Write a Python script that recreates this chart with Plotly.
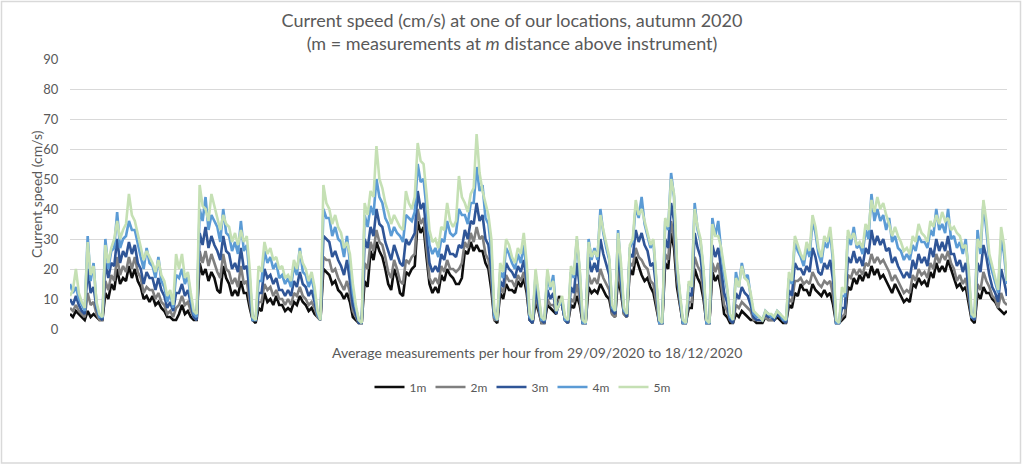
import pandas as pd
import plotly.graph_objects as go

# ---- data: hourly-average current speed (cm/s) ----
# "main" values at 00:00 / 12:00, "mid" values at 06:00 / 18:00
start_date = "2020-09-29"

speed_5m_main = [11, 20, 9, 29, 21, 5, 28, 27, 36, 33, 45, 36, 27, 26, 22, 23, 16, 13, 25, 25,
                 19, 6, 48, 40, 45, 37, 38, 34, 32, 33, 31, 4, 21, 29, 27, 24, 21, 18, 23, 26,
                 20, 19, 6, 48, 40, 38, 32, 29, 15, 3, 42, 46, 61, 47, 39, 38, 34, 46, 40, 62,
                 55, 33, 30, 34, 42, 34, 51, 42, 45, 65, 46, 38, 6, 22, 30, 24, 27, 32, 5, 20,
                 4, 20, 16, 8, 4, 21, 31, 3, 29, 26, 38, 28, 8, 32, 7, 28, 43, 40, 32, 30,
                 3, 37, 50, 22, 3, 16, 40, 30, 3, 35, 31, 20, 5, 17, 21, 16, 6, 4, 6, 5,
                 6, 4, 19, 31, 25, 29, 38, 27, 31, 34, 3, 14, 33, 32, 29, 35, 43, 44, 42, 35,
                 34, 29, 27, 31, 35, 31, 36, 38, 39, 37, 34, 31, 28, 5, 30, 43, 25, 17, 34, 16]
speed_5m_mid = [13, 12, 7, 18, 9, 4, 22, 30, 30, 35, 38, 32, 23, 24, 19, 18, 11, 8, 20, 17,
                12, 5, 41, 36, 41, 33, 35, 29, 28, 29, 20, 3, 19, 25, 23, 20, 17, 16, 20, 22,
                16, 14, 3, 42, 35, 34, 27, 25, 8, 2, 38, 44, 50, 42, 35, 36, 33, 42, 44, 56,
                45, 29, 27, 33, 36, 36, 44, 39, 47, 52, 42, 30, 3, 19, 28, 22, 25, 22, 3, 12,
                3, 14, 6, 11, 3, 18, 20, 2, 24, 24, 33, 24, 6, 22, 5, 30, 38, 36, 28, 18,
                2, 34, 45, 12, 2, 14, 34, 20, 2, 31, 27, 14, 3, 14, 17, 12, 5, 3, 5, 4,
                5, 3, 16, 28, 23, 26, 34, 24, 29, 24, 2, 12, 30, 28, 27, 33, 39, 40, 38, 31,
                31, 26, 25, 29, 32, 29, 34, 35, 36, 33, 32, 27, 20, 4, 27, 36, 21, 13, 28]

speed_4m_main = [15, 14, 8, 31, 22, 4, 30, 26, 39, 30, 36, 33, 24, 27, 21, 24, 14, 12, 18, 20,
                 18, 5, 40, 44, 38, 34, 40, 31, 29, 36, 28, 3, 16, 26, 24, 22, 18, 17, 21, 27,
                 18, 17, 5, 40, 37, 34, 29, 31, 12, 3, 38, 41, 50, 42, 35, 34, 31, 38, 36, 55,
                 50, 28, 27, 30, 36, 31, 40, 38, 42, 54, 48, 35, 4, 19, 27, 22, 25, 28, 4, 18,
                 3, 18, 18, 8, 3, 19, 30, 2, 30, 27, 40, 27, 7, 33, 6, 27, 41, 44, 31, 29,
                 2, 36, 52, 21, 2, 15, 42, 29, 2, 37, 36, 18, 4, 19, 22, 18, 5, 4, 6, 4,
                 6, 3, 17, 29, 24, 27, 36, 25, 29, 32, 2, 11, 31, 34, 28, 33, 45, 40, 38, 37,
                 31, 26, 25, 28, 31, 29, 33, 40, 35, 40, 31, 29, 30, 4, 33, 42, 23, 15, 30, 15]
speed_4m_mid = [12, 10, 6, 16, 8, 4, 20, 27, 27, 31, 33, 28, 20, 22, 17, 16, 9, 7, 17, 15,
                10, 4, 36, 33, 36, 29, 32, 26, 25, 26, 17, 3, 16, 22, 20, 17, 15, 14, 18, 19,
                14, 12, 3, 37, 31, 30, 24, 22, 7, 2, 34, 38, 44, 37, 31, 32, 29, 37, 39, 49,
                40, 25, 24, 29, 32, 32, 38, 35, 42, 46, 37, 26, 3, 17, 25, 20, 22, 19, 3, 11,
                3, 13, 6, 10, 3, 17, 19, 2, 23, 23, 32, 23, 6, 21, 5, 29, 37, 35, 27, 17,
                2, 33, 44, 11, 2, 14, 33, 19, 2, 31, 26, 13, 3, 14, 17, 11, 4, 3, 5, 4,
                5, 3, 15, 26, 21, 24, 32, 22, 27, 22, 2, 11, 28, 27, 25, 30, 36, 36, 33, 29,
                27, 23, 23, 26, 29, 27, 31, 33, 32, 30, 27, 25, 18, 4, 25, 33, 19, 12, 25]

speed_3m_main = [10, 11, 6, 20, 14, 4, 22, 22, 30, 26, 29, 28, 20, 19, 17, 17, 11, 9, 12, 15,
                 13, 4, 32, 34, 31, 26, 31, 25, 22, 27, 21, 3, 12, 20, 18, 17, 13, 13, 16, 19,
                 14, 13, 5, 31, 29, 26, 21, 23, 8, 2, 30, 34, 40, 34, 26, 28, 22, 30, 30, 46,
                 42, 22, 21, 25, 28, 25, 28, 33, 36, 42, 38, 28, 4, 16, 22, 19, 21, 23, 3, 14,
                 3, 13, 12, 9, 3, 14, 22, 2, 24, 22, 30, 21, 6, 26, 6, 25, 33, 32, 26, 22,
                 2, 30, 42, 19, 2, 12, 32, 24, 2, 28, 27, 12, 3, 12, 14, 11, 4, 3, 5, 4,
                 5, 3, 13, 22, 20, 21, 27, 19, 22, 23, 2, 7, 24, 26, 24, 27, 33, 31, 30, 27,
                 24, 19, 19, 23, 25, 24, 27, 30, 29, 31, 25, 23, 22, 4, 22, 28, 18, 12, 20, 11]
speed_3m_mid = [8, 8, 5, 12, 7, 3, 17, 21, 22, 24, 25, 22, 15, 17, 13, 13, 7, 6, 12, 11,
                8, 3, 28, 27, 28, 23, 26, 20, 19, 20, 12, 3, 12, 17, 15, 13, 11, 11, 14, 15,
                11, 9, 3, 30, 24, 23, 18, 16, 5, 2, 27, 31, 35, 29, 23, 25, 21, 28, 32, 40,
                32, 19, 19, 23, 25, 24, 27, 30, 35, 36, 30, 20, 3, 14, 20, 17, 19, 16, 2, 8,
                2, 10, 5, 8, 2, 12, 14, 2, 19, 19, 25, 18, 5, 17, 4, 24, 29, 28, 21, 13,
                2, 27, 36, 10, 2, 11, 27, 15, 2, 24, 20, 9, 2, 10, 12, 8, 3, 3, 4, 3,
                4, 2, 11, 20, 18, 19, 24, 18, 20, 16, 2, 7, 22, 22, 21, 25, 28, 28, 26, 22,
                21, 17, 17, 20, 22, 21, 24, 26, 26, 25, 21, 19, 14, 3, 19, 24, 14, 9, 16]

speed_2m_main = [7, 8, 5, 12, 9, 3, 16, 18, 24, 21, 24, 24, 17, 14, 13, 12, 8, 6, 7, 11,
                 9, 4, 26, 26, 25, 19, 25, 19, 17, 21, 16, 3, 9, 15, 14, 13, 10, 10, 12, 14,
                 10, 9, 4, 24, 23, 20, 15, 16, 6, 2, 22, 29, 33, 28, 19, 23, 16, 23, 24, 40,
                 37, 17, 17, 21, 23, 20, 20, 29, 32, 34, 31, 23, 3, 14, 18, 16, 18, 19, 3, 11,
                 2, 10, 8, 10, 3, 10, 15, 2, 18, 17, 20, 15, 5, 20, 5, 22, 27, 23, 20, 15,
                 2, 25, 36, 17, 2, 9, 24, 19, 2, 22, 22, 8, 3, 8, 9, 7, 3, 3, 4, 3,
                 5, 3, 10, 16, 17, 16, 19, 15, 16, 16, 2, 4, 18, 20, 20, 22, 25, 24, 23, 19,
                 18, 14, 13, 18, 20, 19, 22, 25, 25, 26, 20, 18, 17, 4, 15, 19, 14, 10, 12, 8]
speed_2m_mid = [6, 6, 4, 8, 5, 3, 13, 16, 18, 19, 20, 19, 12, 13, 10, 9, 5, 4, 8, 8,
                6, 3, 22, 21, 22, 17, 20, 15, 14, 15, 9, 3, 9, 13, 11, 10, 8, 8, 11, 11,
                8, 7, 3, 23, 19, 17, 13, 12, 4, 2, 20, 26, 29, 24, 17, 20, 15, 22, 25, 35,
                27, 15, 15, 19, 20, 19, 22, 27, 29, 30, 25, 16, 3, 12, 16, 14, 16, 14, 2, 7,
                2, 8, 6, 8, 2, 9, 10, 2, 15, 15, 17, 13, 4, 14, 4, 21, 24, 21, 16, 9,
                2, 23, 30, 9, 2, 9, 21, 12, 2, 19, 15, 6, 2, 7, 8, 6, 3, 3, 3, 3,
                4, 2, 9, 16, 15, 15, 17, 14, 15, 11, 2, 5, 17, 18, 18, 21, 22, 22, 21, 16,
                16, 12, 12, 16, 18, 17, 20, 22, 23, 22, 16, 15, 11, 3, 13, 16, 11, 7, 9]

speed_1m_main = [5, 6, 4, 6, 5, 3, 12, 15, 20, 17, 21, 20, 14, 11, 11, 9, 6, 4, 3, 8,
                 6, 3, 22, 20, 19, 13, 21, 15, 13, 16, 12, 3, 7, 12, 10, 11, 8, 7, 9, 11,
                 8, 7, 4, 20, 18, 16, 12, 12, 4, 2, 16, 26, 29, 24, 15, 20, 12, 19, 20, 36,
                 34, 15, 14, 18, 20, 17, 15, 26, 29, 28, 26, 20, 3, 12, 15, 13, 16, 17, 3, 9,
                 2, 8, 6, 11, 3, 8, 11, 2, 14, 13, 15, 11, 5, 17, 5, 20, 24, 18, 17, 12,
                 2, 22, 32, 14, 2, 7, 20, 15, 2, 19, 18, 5, 2, 5, 6, 4, 3, 2, 4, 3,
                 4, 2, 8, 12, 15, 13, 15, 12, 13, 12, 2, 3, 14, 17, 18, 19, 21, 20, 18, 14,
                 15, 11, 10, 15, 17, 16, 19, 22, 21, 23, 17, 15, 14, 3, 12, 14, 12, 9, 6, 6]
speed_1m_mid = [4, 5, 3, 4, 4, 3, 10, 13, 15, 16, 17, 16, 10, 9, 8, 7, 4, 3, 5, 5,
                4, 3, 18, 16, 17, 12, 17, 11, 11, 12, 7, 2, 6, 9, 8, 8, 6, 6, 8, 9,
                6, 5, 3, 19, 15, 13, 10, 9, 3, 2, 14, 23, 26, 20, 13, 17, 11, 18, 21, 32,
                24, 12, 12, 16, 18, 15, 17, 25, 26, 26, 22, 13, 2, 10, 13, 12, 14, 12, 2, 6,
                2, 7, 5, 8, 2, 7, 8, 2, 12, 12, 13, 10, 4, 12, 4, 18, 21, 16, 14, 7,
                2, 20, 27, 8, 2, 7, 17, 10, 2, 16, 13, 4, 2, 4, 5, 3, 2, 2, 3, 3,
                3, 2, 7, 11, 13, 11, 13, 11, 11, 8, 2, 4, 13, 15, 16, 17, 18, 17, 16, 12,
                13, 9, 9, 14, 15, 14, 17, 19, 19, 20, 14, 13, 9, 2, 10, 12, 10, 7, 5]

series_names = ["1m", "2m", "3m", "4m", "5m"]
series_main = [speed_1m_main, speed_2m_main, speed_3m_main, speed_4m_main, speed_5m_main]
series_mid = [speed_1m_mid, speed_2m_mid, speed_3m_mid, speed_4m_mid, speed_5m_mid]
series_colors = ["#0d0d0d", "#7f7f7f", "#2f5597", "#5b9bd5", "#c5e0b4"]
y_ticks = [0, 10, 20, 30, 40, 50, 60, 70, 80, 90]

t_main = pd.date_range(start_date, periods=len(speed_5m_main), freq="12h")
t_mid = pd.date_range(pd.Timestamp(start_date) + pd.Timedelta(hours=6),
                      periods=len(speed_5m_mid), freq="12h")


def interleave(a, b):
    out = []
    for i, v in enumerate(a):
        out.append(v)
        if i < len(b):
            out.append(b[i])
    return out


times = interleave(list(t_main), list(t_mid))

FONT = "Lato"
GREY = "#595959"

fig = go.Figure()
for name, main, mid, col in zip(series_names, series_main, series_mid, series_colors):
    fig.add_trace(go.Scatter(x=times, y=interleave(main, mid), name=name, mode="lines",
                             line=dict(color=col, width=2.6)))

W, H = 1024, 465
L, R, T, B = 70, 17, 59, 136
pw, ph = W - L - R, H - T - B


def px_x(px):
    return (px - L) / pw


def px_y(py):
    return (H - B - py) / ph


fig.update_layout(
    width=W, height=H,
    margin=dict(l=L, r=R, t=T, b=B),
    paper_bgcolor="white", plot_bgcolor="white",
    font=dict(family=FONT, color=GREY, size=13),
    title=dict(
        text="Current speed (cm/s) at one of our locations, autumn 2020<br>"
             "(m = measurements at <i>m</i> distance above instrument)",
        x=0.5, xref="container", xanchor="center",
        y=1 - 27 / H, yref="container", yanchor="middle",
        font=dict(family=FONT, size=18, color=GREY),
    ),
    xaxis=dict(showticklabels=False, showgrid=False, zeroline=False,
               showline=False, ticks="", range=[t_main[0], t_main[-1]]),
    yaxis=dict(range=[0, 90], tickvals=y_ticks, showgrid=True,
               gridcolor="#d9d9d9", gridwidth=1, zeroline=False,
               showline=False, ticks="outside", ticklen=8,
               tickcolor="rgba(0,0,0,0)", tickfont=dict(size=13, color=GREY)),
    showlegend=True,
    legend=dict(orientation="h", x=px_x(522), xanchor="center",
                y=px_y(387), yanchor="middle", itemwidth=30,
                entrywidth=16, entrywidthmode="pixels",
                font=dict(size=12, color=GREY), traceorder="normal"),
    annotations=[
        dict(text="Average measurements per hour from 29/09/2020 to 18/12/2020",
             xref="paper", yref="paper", x=px_x(537), y=px_y(352),
             xanchor="center", yanchor="middle", showarrow=False,
             font=dict(size=14, color=GREY)),
        dict(text="Current speed (cm/s)", xref="paper", yref="paper",
             x=px_x(36), y=px_y(194), xanchor="center", yanchor="middle",
             textangle=-90, showarrow=False, font=dict(size=14, color=GREY)),
    ],
    shapes=[dict(type="rect", xref="paper", yref="paper",
                 x0=px_x(1.5), x1=px_x(1020.5), y0=px_y(463), y1=px_y(1.5),
                 line=dict(color="#d9d9d9", width=1.5), layer="below")],
)

fig.write_html("out.html", config={"displayModeBar": False},
               post_script="document.body.style.margin='0';document.body.style.padding='0';")
